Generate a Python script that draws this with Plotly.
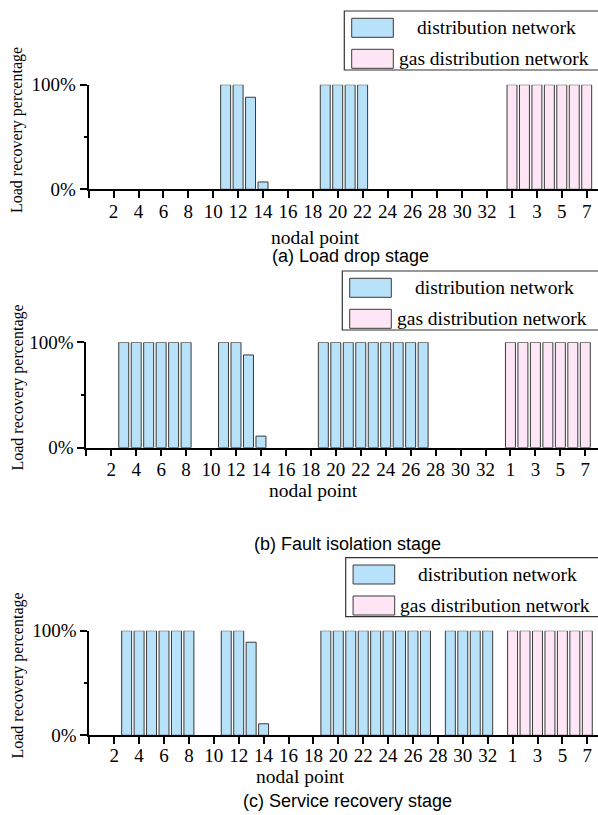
import plotly.graph_objects as go

# ---------------- data ----------------
dist_nodes = list(range(1, 34))          # distribution network nodes 1..33
gas_nodes = list(range(1, 8))            # gas distribution network nodes 1..7

stage_titles = ["(a) Load drop stage", "(b) Fault isolation stage", "(c) Service recovery stage"]

dist_a = [0, 0, 0, 0, 0, 0, 0, 0, 0, 0,
          100, 100, 88, 7, 0, 0, 0, 0,
          100, 100, 100, 100, 0, 0, 0, 0, 0, 0, 0, 0, 0, 0, 0]
dist_b = [0, 0, 100, 100, 100, 100, 100, 100, 0, 0,
          100, 100, 88, 11, 0, 0, 0, 0,
          100, 100, 100, 100, 100, 100, 100, 100, 100, 0, 0, 0, 0, 0, 0]
dist_c = [0, 0, 100, 100, 100, 100, 100, 100, 0, 0,
          100, 100, 89, 11, 0, 0, 0, 0,
          100, 100, 100, 100, 100, 100, 100, 100, 100, 0, 100, 100, 100, 100, 0]
gas_a = [100, 100, 100, 100, 100, 100, 100]
gas_b = [100, 100, 100, 100, 100, 100, 100]
gas_c = [100, 100, 100, 100, 100, 100, 100]

x_tick_labels = ["", "2", "4", "6", "8", "10", "12", "14", "16", "18", "20", "22",
                 "24", "26", "28", "30", "32", "1", "3", "5", "7"]
y_tick_vals = [0, 100]
y_tick_labels = ["0%", "100%"]

series_names = ["distribution network", "gas distribution network"]
x_title = "nodal point"
y_title = "Load recovery percentage"

# ---------------- layout helpers ----------------
W, H = 598, 815
BLUE = "#B8E2FA"
PINK = "#FEE6F7"
EDGE = "#3a3a3a"
SERIF = "Liberation Serif, Times New Roman, serif"
SANS = "Liberation Sans, Arial, sans-serif"


def px(x):
    return x / W


def py(y):
    return 1 - y / H


# per panel: x of axis origin (px), px per node, y of 0% and 100% (px),
# legend box (left, top, bottom), label positions
panels = [
    dict(x0=88.7, sc=12.45, y0=189.3, y1=84.7, leg=(344.3, 11.0, 70.0), sd=-3,
         ytitle=(17, 130), xtitle=(315, 237.5), cap=(350, 256.5)),
    dict(x0=86.3, sc=12.475, y0=447.7, y1=342.3, leg=(342.3, 271.0, 330.0), sd=-3,
         ytitle=(17.5, 388), xtitle=(313, 490.5), cap=(347.5, 544)),
    dict(x0=89.3, sc=12.45, y0=735.3, y1=630.7, leg=(345.7, 557.7, 616.7), sd=-5,
         ytitle=(17.5, 676), xtitle=(300.5, 776.5), cap=(347.5, 801)),
]

dist_sets = [dist_a, dist_b, dist_c]
gas_sets = [gas_a, gas_b, gas_c]

n_dist = len(dist_nodes)
x_dist = dist_nodes
x_gas = [n_dist + g for g in gas_nodes]
x_tick_pos = list(range(0, 2 * len(x_tick_labels), 2))

fig = go.Figure()
shapes = []
annotations = []


def edge_widths(vals):
    return [1 if v > 0 else 0 for v in vals]


for i, p in enumerate(panels):
    sfx = "" if i == 0 else str(i + 1)
    xa, ya = "x" + sfx, "y" + sfx
    fig.add_trace(go.Bar(x=x_dist, y=dist_sets[i], xaxis=xa, yaxis=ya,
                         name=series_names[0], width=0.8, cliponaxis=False,
                         marker=dict(color=BLUE, line=dict(color=EDGE, width=edge_widths(dist_sets[i])))))
    fig.add_trace(go.Bar(x=x_gas, y=gas_sets[i], xaxis=xa, yaxis=ya,
                         name=series_names[1], width=0.8, cliponaxis=False,
                         marker=dict(color=PINK, line=dict(color=EDGE, width=edge_widths(gas_sets[i])))))

    xr = (W - p["x0"]) / p["sc"]
    fig.update_layout(**{
        "xaxis" + sfx: dict(
            domain=[px(p["x0"]), 1.0], range=[0, xr], anchor=ya, automargin=False,
            tickmode="array", tickvals=x_tick_pos, ticktext=x_tick_labels,
            ticks="outside", ticklen=7, tickwidth=1.5, tickcolor="black",
            ticklabelstandoff=p["sd"],
            showline=True, linecolor="black", linewidth=1.5,
            showgrid=False, zeroline=False,
            tickfont=dict(family=SERIF, size=19, color="black"),
        ),
        "yaxis" + sfx: dict(
            domain=[py(p["y0"]), py(p["y1"])], range=[0, 100], anchor=xa, automargin=False,
            tickmode="array", tickvals=y_tick_vals, ticktext=y_tick_labels,
            ticks="outside", ticklen=7, tickwidth=1.5, tickcolor="black",
            minor=dict(tickmode="array", tickvals=[50], ticks="outside",
                       ticklen=3, tickwidth=1.5, tickcolor="black"),
            showline=True, linecolor="black", linewidth=2,
            showgrid=False, zeroline=False,
            tickfont=dict(family=SERIF, size=19, color="black"),
        ),
    })

    # axis titles and caption
    annotations.append(dict(text=y_title, x=px(p["ytitle"][0]), y=py(p["ytitle"][1]),
                            xref="paper", yref="paper", showarrow=False, textangle=-90,
                            xanchor="center", yanchor="middle",
                            font=dict(family=SERIF, size=16, color="black")))
    annotations.append(dict(text=x_title, x=px(p["xtitle"][0]), y=py(p["xtitle"][1]),
                            xref="paper", yref="paper", showarrow=False,
                            xanchor="center", yanchor="middle",
                            font=dict(family=SERIF, size=19.5, color="black")))
    annotations.append(dict(text=stage_titles[i], x=px(p["cap"][0]), y=py(p["cap"][1]),
                            xref="paper", yref="paper", showarrow=False,
                            xanchor="center", yanchor="middle",
                            font=dict(family=SANS, size=18, color="black")))

    # legend box
    lx, lt, lb = p["leg"]
    shapes.append(dict(type="rect", xref="paper", yref="paper",
                       x0=px(lx), x1=px(W + 2), y0=py(lb), y1=py(lt),
                       line=dict(color="#333333", width=1.2), fillcolor="white", layer="above"))
    for k, (col, name) in enumerate([(BLUE, series_names[0]), (PINK, series_names[1])]):
        top = lt + 7.3 + 31 * k
        shapes.append(dict(type="rect", xref="paper", yref="paper",
                           x0=px(lx + 7.4), x1=px(lx + 49), y0=py(top + 19), y1=py(top),
                           line=dict(color=EDGE, width=1), fillcolor=col, layer="above"))
        annotations.append(dict(text=name, x=px(lx + (152 if k == 0 else 149.5)),
                                y=py(top + 9.5), xref="paper", yref="paper",
                                showarrow=False, xanchor="center", yanchor="middle",
                                font=dict(family=SERIF, size=19.5, color="black")))

fig.update_layout(
    template="none",
    width=W, height=H,
    margin=dict(l=0, r=0, t=0, b=0, autoexpand=False),
    paper_bgcolor="white", plot_bgcolor="white",
    showlegend=False, barmode="overlay",
    shapes=shapes, annotations=annotations,
)

fig.write_html("out.html")
